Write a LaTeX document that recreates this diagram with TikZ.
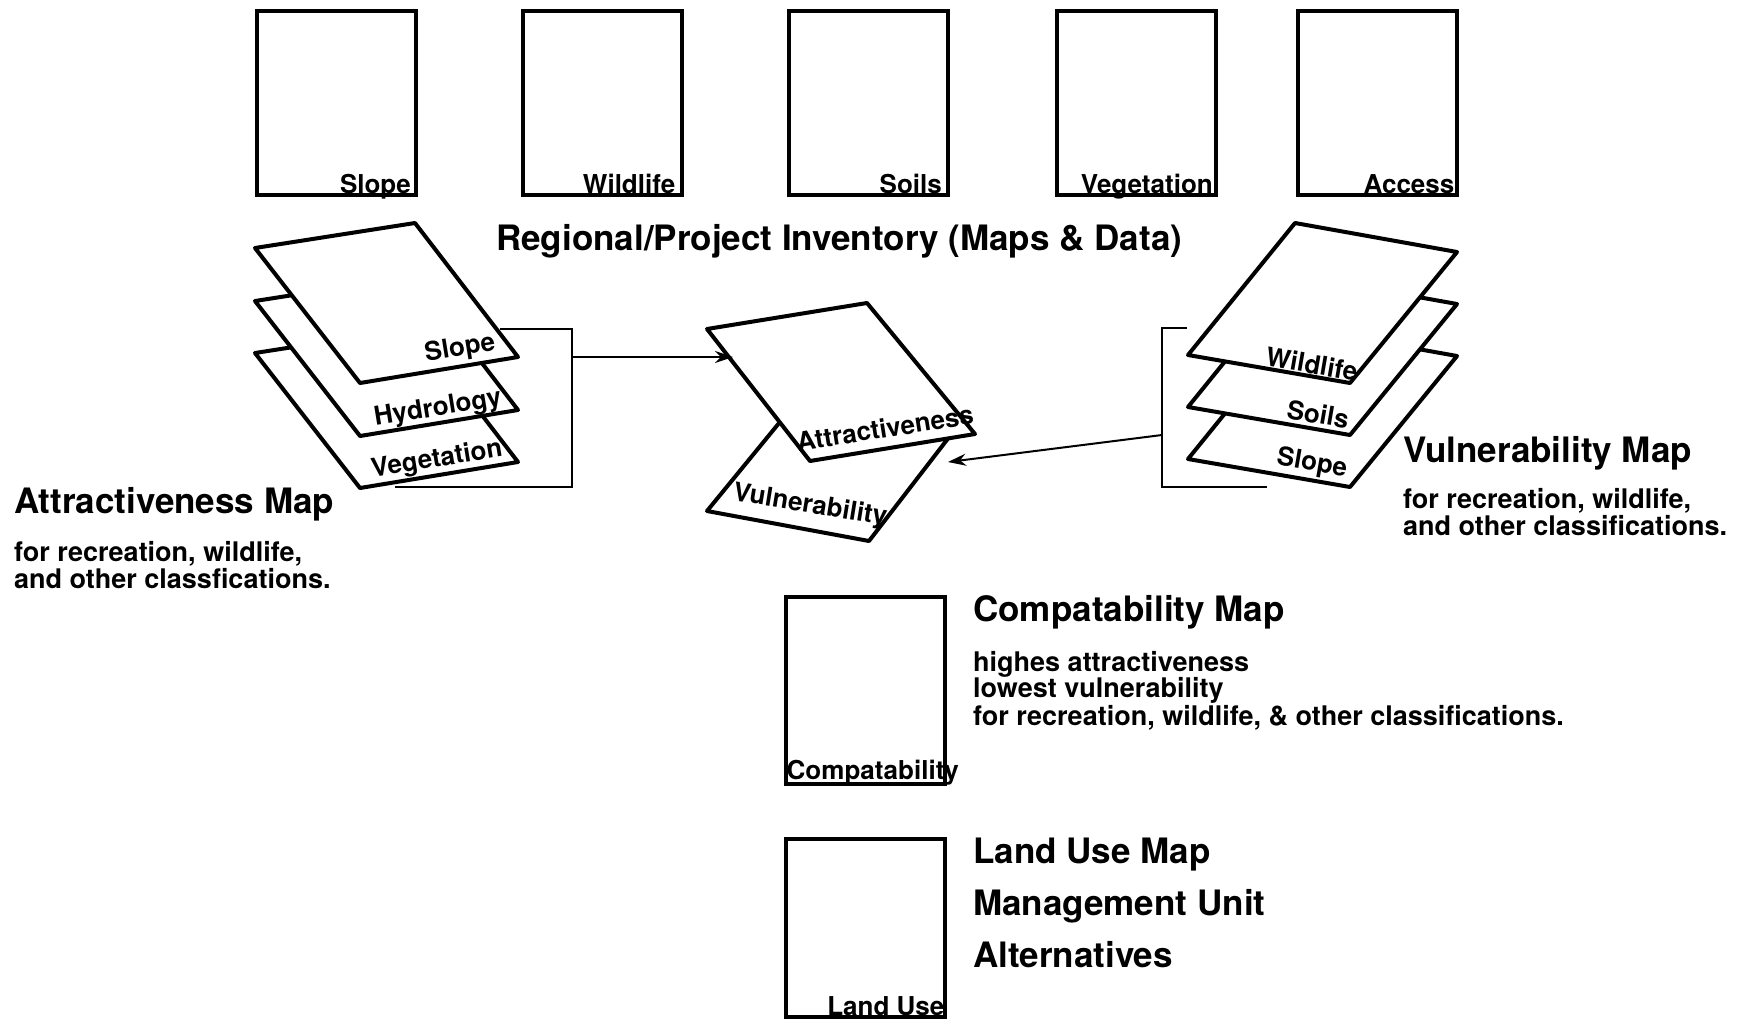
\documentclass[tikz,border=0pt]{standalone}
\usepackage{fontspec}
\setmainfont{TeX Gyre Heros}
\usetikzlibrary{arrows.meta}
\begin{document}
\begin{tikzpicture}[x=1pt,y=-1pt,
  sheet/.style={draw=black, fill=white, line width=4pt, line join=round},
  mapbox/.style={draw=black, line width=4pt, inner sep=0pt, minimum width=159pt, minimum height=184pt},
  lbl/.style={inner sep=0pt, font=\fontsize{26}{26}\selectfont\bfseries},
  head/.style={inner sep=0pt, anchor=base west, font=\fontsize{35}{35}\selectfont\bfseries},
  sub/.style={inner sep=0pt, anchor=base west, font=\fontsize{27}{27}\selectfont\bfseries},
  conn/.style={line width=2pt},
  arr/.style={conn, -{Stealth[length=18pt,width=12pt]}}]
\useasboundingbox (0,0) rectangle (1739,1021);

% ---- inventory maps ----
\node[mapbox] (r1) at (336.5,103) {};
\node[mapbox] (r2) at (602,103) {};
\node[mapbox] (r3) at (868.5,103) {};
\node[mapbox] (r4) at (1136.5,103) {};
\node[mapbox] (r5) at (1377,103) {};
\node[lbl, anchor=base east] (r1l) at ([xshift=-7pt,yshift=4pt]r1.south east) {Slope};
\node[lbl, anchor=base east] (r2l) at ([xshift=-8pt,yshift=4pt]r2.south east) {Wildlife};
\node[lbl, anchor=base east] (r3l) at ([xshift=-8pt,yshift=4pt]r3.south east) {Soils};
\node[lbl, anchor=base east] (r4l) at ([xshift=-5pt,yshift=4pt]r4.south east) {Vegetation};
\node[lbl, anchor=base east] (r5l) at ([xshift=-4pt,yshift=4pt]r5.south east) {Access};

\node[head] (title) at (496,250) {Regional/Project Inventory (Maps \& Data)};

% ---- connector coordinates ----
\coordinate (lb1) at (500,329);
\coordinate (lb2) at (572,329);
\coordinate (lb3) at (572,487);
\coordinate (lb4) at (395,487);
\coordinate (la0) at (572,357);
\coordinate (la1) at (733,357);
\coordinate (rb1) at (1187,328);
\coordinate (rb2) at (1162,328);
\coordinate (rb3) at (1162,487);
\coordinate (rb4) at (1267,487);
\coordinate (ra0) at (1162,435);
\coordinate (ra1) at (948,462);

\draw[conn] (lb1) -- (lb2) -- (lb3) -- (lb4);
\draw[conn] (rb1) -- (rb2) -- (rb3) -- (rb4);

% ---- left stack (attractiveness) ----
\draw[sheet] (255,353) -- (415,328) -- (518,462) -- (360,488) -- cycle;
\node[lbl, rotate=9.3] (lv) at (437,460) {Vegetation};
\draw[sheet] (255,301) -- (415,276) -- (518,410) -- (360,436) -- cycle;
\node[lbl, rotate=9.3] (lh) at (438,409) {Hydrology};
\draw[sheet] (255,248) -- (415,223) -- (518,357) -- (360,383) -- cycle;
\node[lbl, rotate=9.3] (ls) at (460,349) {Slope};

% ---- right stack (vulnerability) ----
\draw[sheet] (1188,459) -- (1295,327) -- (1457,356) -- (1350,487) -- cycle;
\node[lbl, rotate=-9.8] (rs) at (1312,464) {Slope};
\draw[sheet] (1188,407) -- (1295,275) -- (1457,304) -- (1350,435) -- cycle;
\node[lbl, rotate=-9.8] (rso) at (1318,414) {Soils};
\draw[sheet] (1188,355) -- (1295,223) -- (1457,252) -- (1350,383) -- cycle;
\node[lbl, rotate=-9.8] (rw) at (1312,364) {Wildlife};

% ---- central stack ----
\draw[sheet] (707,511) -- (793,406) -- (953,432) -- (869,541) -- cycle;
\node[lbl, rotate=-9.2] (cv) at (810,506) {Vulnerability};
\draw[sheet] (707,329) -- (867,303) -- (975,434) -- (810,461) -- cycle;
\node[lbl, rotate=9] (ca) at (885,428) {Attractiveness};

\draw[arr] (la0) -- (la1);
\draw[arr] (ra0) -- (ra1);

% ---- side texts ----
\node[head] (am) at (14,513) {Attractiveness Map};
\node[sub] (am1) at (14,561) {for recreation, wildlife,};
\node[sub] (am2) at (14,588) {and other classfications.};

\node[head] (vm) at (1403,462) {Vulnerability Map};
\node[sub] (vm1) at (1403,508) {for recreation, wildlife,};
\node[sub] (vm2) at (1403,535) {and other classifications.};

% ---- compatability ----
\node[mapbox, minimum height=187pt] (cm) at (865,690.5) {};
\node[lbl, anchor=base west] (cml) at ([xshift=3pt,yshift=7pt]cm.south west) {Compatability};
\node[head] (cmh) at (973,621) {Compatability Map};
\node[sub] (cm1) at (973,671) {highes attractiveness};
\node[sub] (cm2) at (973,697) {lowest vulnerability};
\node[sub] (cm3) at (973,725) {for recreation, wildlife, \& other classifications.};

% ---- land use ----
\node[mapbox, minimum height=178pt] (lu) at (865,928) {};
\node[lbl, anchor=base east] (lul) at ([xshift=-2pt,yshift=4pt]lu.south east) {Land Use};
\node[head] (luh) at (973,863) {Land Use Map};
\node[head] (lu1) at (973,915) {Management Unit};
\node[head] (lu2) at (973,967) {Alternatives};
\end{tikzpicture}
\end{document}
